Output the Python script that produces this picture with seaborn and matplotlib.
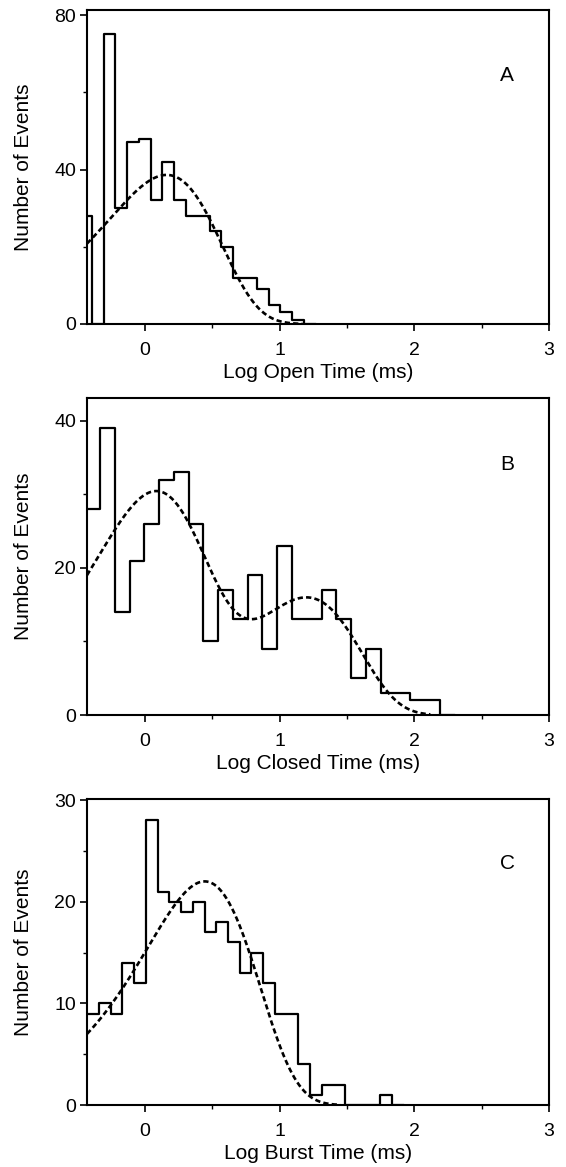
"""
Histogramas de tempos de abertura, fechamento e burst (log ms) com ajuste
exponencial (linha tracejada). Salva out.png.
"""

import matplotlib.pyplot as plt
import numpy as np
import pandas as pd
import seaborn as sns
from matplotlib.ticker import AutoMinorLocator, MultipleLocator

# ---------------------------------------------------------------------------
# Dados (último bin com contagem 0 fecha o histograma)
# ---------------------------------------------------------------------------
# Painel A - Log Open Time
edges_a = [-0.48, -0.395, -0.307, -0.22, -0.132, -0.045, 0.043, 0.13, 0.218,
           0.305, 0.393, 0.48, 0.568, 0.655, 0.743, 0.83, 0.918, 1.005,
           1.093, 1.18, 1.268]
counts_a = [28, 0, 75, 30, 47, 48, 32, 42, 32, 28, 28, 24, 20, 12, 12, 9, 5,
            3, 1, 0]

# Painel B - Log Closed Time
edges_b = [-0.443, -0.333, -0.224, -0.114, -0.004, 0.105, 0.215, 0.325,
           0.434, 0.544, 0.654, 0.764, 0.873, 0.983, 1.093, 1.202, 1.312,
           1.422, 1.531, 1.641, 1.751, 1.861, 1.970, 2.080, 2.190, 2.300]
counts_b = [28, 39, 14, 21, 26, 32, 33, 26, 10, 17, 13, 19, 9, 23, 13, 13, 17,
            13, 5, 9, 3, 3, 2, 2, 0]

# Painel C - Log Burst Time
edges_c = [-0.428, -0.341, -0.254, -0.167, -0.080, 0.007, 0.095, 0.182,
           0.269, 0.356, 0.443, 0.530, 0.617, 0.704, 0.791, 0.878, 0.965,
           1.052, 1.140, 1.227, 1.314, 1.401, 1.488, 1.575, 1.662, 1.749,
           1.836, 1.923]
counts_c = [9, 10, 9, 14, 12, 28, 21, 20, 19, 20, 17, 18, 16, 13, 15, 12, 9, 9,
            4, 1, 2, 2, 0, 0, 0, 1, 0]

# Ajustes: componentes exponenciais (altura do pico, tau em ms) e fim da curva
fit_amp_a = [38.6]
fit_tau_a = [1.45]
fit_amp_b = [27.5, 16.0]
fit_tau_b = [1.1, 15.8]
fit_amp_c = [22.0]
fit_tau_c = [2.78]
fit_xmax = [1.17, 2.12, 1.45]

panel_letters = ["A", "B", "C"]
xlabels = ["Log Open Time (ms)", "Log Closed Time (ms)", "Log Burst Time (ms)"]
ylims = [81.3, 43.1, 30.1]
ymajor = [40, 20, 10]

# ---------------------------------------------------------------------------
# Estilo
# ---------------------------------------------------------------------------
sns.set_style("ticks")
plt.rcParams["font.family"] = ["Liberation Sans", "DejaVu Sans"]
plt.rcParams["axes.linewidth"] = 1.5
plt.rcParams["text.color"] = "black"
plt.rcParams["axes.labelcolor"] = "black"
plt.rcParams["xtick.color"] = "black"
plt.rcParams["ytick.color"] = "black"
plt.rcParams["axes.edgecolor"] = "black"


def fit_curve(x, amps, taus):
    t = 10.0 ** x
    y = np.zeros_like(x)
    for a, tau in zip(amps, taus):
        y += a * (t / tau) * np.exp(1 - t / tau)
    return y


panels = [
    (edges_a, counts_a, fit_amp_a, fit_tau_a),
    (edges_b, counts_b, fit_amp_b, fit_tau_b),
    (edges_c, counts_c, fit_amp_c, fit_tau_c),
]
positions = [
    [0.1537, 0.7224, 0.816, 0.269],
    [0.1537, 0.3873, 0.816, 0.2716],
    [0.1537, 0.0531, 0.816, 0.2622],
]

fig = plt.figure(figsize=(5.66, 11.67), dpi=100)

for i, (edges, counts, amps, taus) in enumerate(panels):
    ax = fig.add_axes(positions[i])
    centers = [(a + b) / 2 for a, b in zip(edges[:-1], edges[1:])]
    df = pd.DataFrame({"x": centers, "n": counts})
    sns.histplot(data=df, x="x", weights="n", bins=list(edges),
                 element="step", fill=False, color="black", linewidth=1.6,
                 ax=ax)
    xgrid = np.linspace(-0.43, fit_xmax[i], 400)
    fit = pd.DataFrame({"x": xgrid, "y": fit_curve(xgrid, amps, taus)})
    sns.lineplot(data=fit, x="x", y="y", color="black", linewidth=1.9, ax=ax)
    ax.lines[-1].set_dashes((2.0, 1.2))

    ax.set_xlim(-0.43, 3.0)
    ax.set_ylim(0, ylims[i])
    ax.xaxis.set_major_locator(MultipleLocator(1))
    ax.xaxis.set_minor_locator(AutoMinorLocator(2))
    ax.yaxis.set_major_locator(MultipleLocator(ymajor[i]))
    ax.yaxis.set_minor_locator(AutoMinorLocator(2))
    ax.tick_params(which="major", length=5, width=1.2, labelsize=14, pad=3)
    ax.tick_params(axis="x", which="major", pad=8)
    ax.tick_params(which="minor", length=3, width=1.0)
    for s in ax.spines.values():
        s.set_visible(True)
        s.set_linewidth(1.5)
    ax.set_xlabel(xlabels[i], fontsize=15, labelpad=3)
    ax.set_ylabel("Number of Events", fontsize=15)
    ax.yaxis.set_label_coords(-0.117, 0.5)
    ax.text(0.91, 0.79, panel_letters[i], transform=ax.transAxes,
            fontsize=15, ha="center", va="center")

fig.savefig("out.png", dpi=100)
